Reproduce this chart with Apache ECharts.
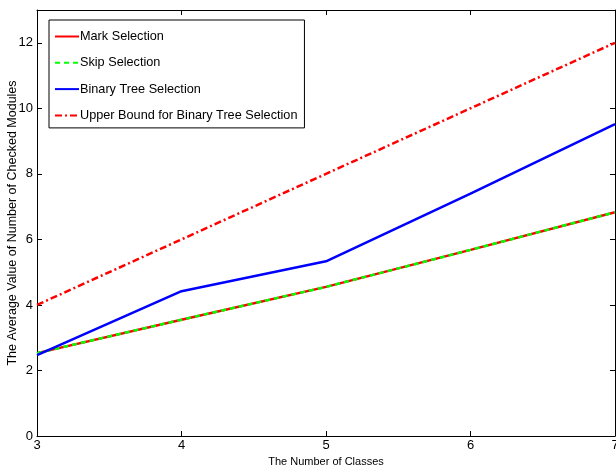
<!DOCTYPE html>
<html>
<head>
<meta charset="utf-8">
<title>Checked Modules</title>
<script src="https://cdn.jsdelivr.net/npm/echarts@6/dist/echarts.min.js"></script>
<style>
  html, body { margin: 0; padding: 0; background: #fff; }
  #chart { width: 616px; height: 468px; }
</style>
</head>
<body>
<div id="chart"></div>
<script>
// number of classes on x
var classes = [3, 4, 5, 6, 7];
var markSel = [2.53, 3.55, 4.55, 5.68, 6.83];
var skipSel = [2.53, 3.55, 4.55, 5.68, 6.83];
var treeSel = [2.47, 4.42, 5.33, 7.4, 9.52];
var upperBound = [4, 6, 8, 10, 12];

function pairs(vals) {
  return classes.map(function (c, i) { return [c, vals[i]]; });
}

var chart = echarts.init(document.getElementById('chart'));
var font = 'Liberation Sans, Arial, sans-serif';
var tick = { show: true, inside: true, length: 5, lineStyle: { color: '#000' } };

chart.setOption({
  animation: false,
  textStyle: { fontFamily: font },
  grid: { left: 37, right: 1, top: 10, bottom: 32, outerBoundsMode: 'none', containLabel: false },
  legend: {
    orient: 'vertical',
    left: 49, top: 20,
    padding: [10, 7, 6, 5],
    itemWidth: 24, itemHeight: 14, itemGap: 13.3,
    borderColor: '#000', borderWidth: 1,
    backgroundColor: '#fff',
    itemStyle: { opacity: 0 },
    textStyle: { fontFamily: font, fontSize: 12.7, color: '#000', padding: [0, 0, 0, -4] },
    data: ['Mark Selection', 'Skip Selection', 'Binary Tree Selection', 'Upper Bound for Binary Tree Selection']
  },
  xAxis: [{
    type: 'value', min: 3, max: 7, interval: 1,
    name: 'The Number of Classes', nameLocation: 'middle', nameGap: 20,
    nameMoveOverlap: false,
    nameTextStyle: { fontSize: 11, color: '#000' },
    axisLine: { onZero: false, lineStyle: { color: '#000', width: 1 } },
    axisTick: tick,
    axisLabel: { fontSize: 13, color: '#000', margin: 3 },
    splitLine: { show: false }
  }, {
    type: 'value', min: 3, max: 7, interval: 1, position: 'top',
    axisLine: { onZero: false, lineStyle: { color: '#000', width: 1 } },
    axisTick: tick,
    axisLabel: { show: false },
    splitLine: { show: false }
  }],
  yAxis: [{
    type: 'value', min: 0, max: 13, interval: 2,
    name: 'The Average Value of Number of Checked Modules', nameLocation: 'middle', nameGap: 18,
    nameMoveOverlap: false,
    nameTextStyle: { fontSize: 12.5, color: '#000' },
    axisLine: { show: true, onZero: false, lineStyle: { color: '#000', width: 1 } },
    axisTick: tick,
    axisLabel: { fontSize: 13, color: '#000', margin: 4, showMaxLabel: false },
    splitLine: { show: false }
  }, {
    type: 'value', min: 0, max: 13, interval: 2, position: 'right',
    axisLine: { show: true, onZero: false, lineStyle: { color: '#000', width: 1 } },
    axisTick: tick,
    axisLabel: { show: false },
    splitLine: { show: false }
  }],
  series: [{
    name: 'Mark Selection', type: 'line', symbol: 'none',
    data: pairs(markSel),
    lineStyle: { color: '#ff0000', width: 2.5 },
    itemStyle: { color: '#ff0000' }
  }, {
    name: 'Skip Selection', type: 'line', symbol: 'none',
    data: pairs(skipSel),
    lineStyle: { color: '#00ff00', width: 2.5, type: [5, 4] },
    itemStyle: { color: '#00ff00' }
  }, {
    name: 'Binary Tree Selection', type: 'line', symbol: 'none',
    data: pairs(treeSel),
    lineStyle: { color: '#0000ff', width: 2.5 },
    itemStyle: { color: '#0000ff' }
  }, {
    name: 'Upper Bound for Binary Tree Selection', type: 'line', symbol: 'none',
    data: pairs(upperBound),
    lineStyle: { color: '#ff0000', width: 2.5, type: [7, 3, 2, 3] },
    itemStyle: { color: '#ff0000' }
  }]
});
</script>
</body>
</html>
